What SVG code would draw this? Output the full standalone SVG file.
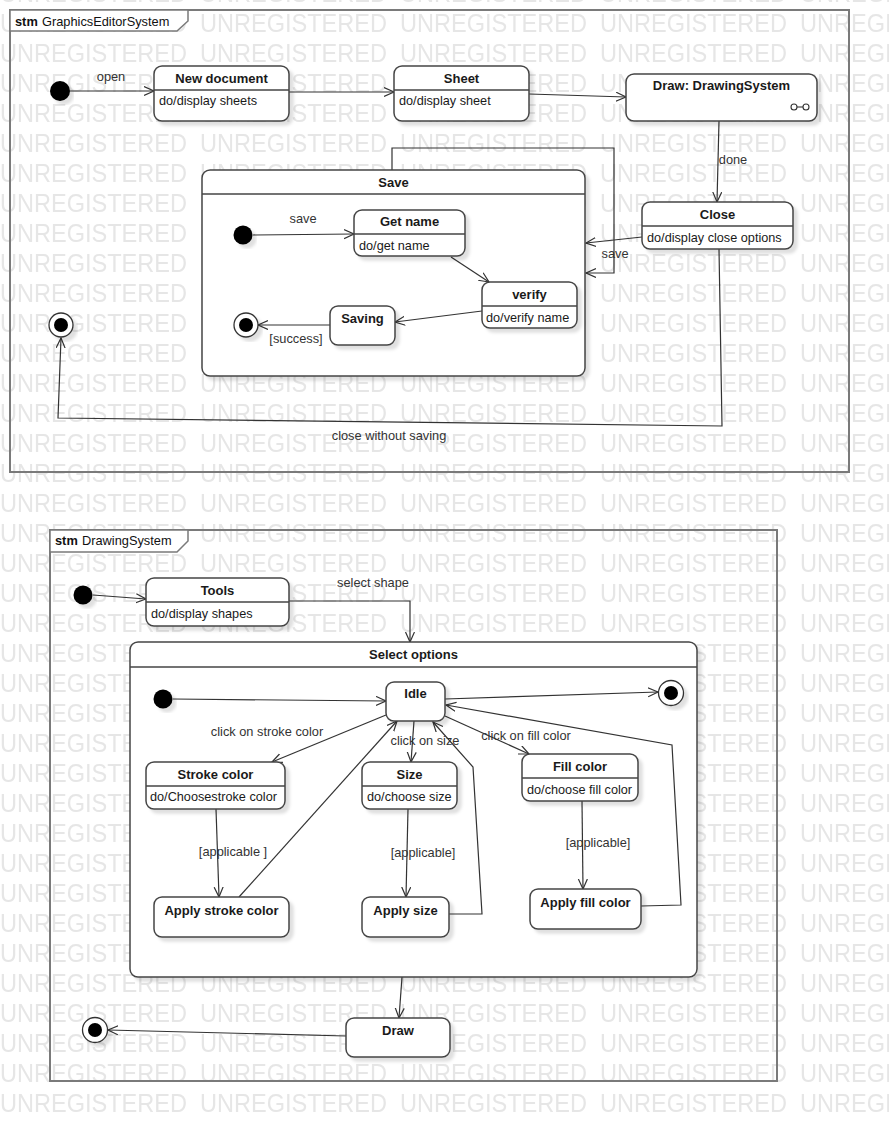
<svg xmlns="http://www.w3.org/2000/svg" width="889" height="1122" viewBox="0 0 889 1122">
  <style>
    .wm { font-family: "Liberation Sans", Arial, sans-serif; font-size: 25px; fill: #e6e6e6; }
    .frame { fill: none; stroke: #7a7a7a; stroke-width: 2; }
    .tab { fill: #fff; stroke: #7a7a7a; stroke-width: 1.5; }
    .tabk { font-family: "Liberation Sans", Arial, sans-serif; font-size: 12.8px; font-weight: bold; fill: #111; }
    .tabn { font-family: "Liberation Sans", Arial, sans-serif; font-size: 12.8px; fill: #111; }
    .node { fill: #fff; stroke: #454545; stroke-width: 1.5; filter: url(#shadow); }
    .div { stroke: #454545; stroke-width: 1.5; }
    .title { font-family: "Liberation Sans", Arial, sans-serif; font-size: 13px; font-weight: bold; fill: #1a1a1a; text-anchor: middle; }
    .body { font-family: "Liberation Sans", Arial, sans-serif; font-size: 12.7px; fill: #1a1a1a; }
    .lbl { font-family: "Liberation Sans", Arial, sans-serif; font-size: 12.8px; fill: #333; text-anchor: middle; }
    .init { fill: #000; filter: url(#shadow); }
    .finalo { fill: #fff; stroke: #333; stroke-width: 1.3; filter: url(#shadow); }
    .finali { fill: #000; }
    .edge { fill: none; stroke: #333; stroke-width: 1.2; marker-end: url(#arr); }
  </style>
  <defs>
    <pattern id="wmTile" patternUnits="userSpaceOnUse" x="0" y="2" width="200" height="30">
      <text class="wm" x="0" y="30" textLength="187" lengthAdjust="spacingAndGlyphs">UNREGISTERED</text>
    </pattern>
    <filter id="shadow" x="-20%" y="-20%" width="140%" height="140%">
      <feDropShadow dx="4" dy="4" stdDeviation="1.6" flood-color="#000" flood-opacity="0.12"/>
    </filter>
    <marker id="arr" markerUnits="userSpaceOnUse" markerWidth="12" markerHeight="12" refX="10" refY="5" orient="auto">
      <path d="M0,0.5 L10,5 L0,9.5" fill="none" stroke="#333" stroke-width="1.2"/>
    </marker>
  </defs>

  <!-- background watermark -->
  <rect x="0" y="0" width="889" height="1122" fill="#fff"/>
  <rect x="0" y="0" width="889" height="1122" fill="url(#wmTile)"/>

  <!-- ===== stm GraphicsEditorSystem ===== -->
  <g id="frame-graphics-editor">
    <rect class="frame" x="10" y="10" width="839" height="462"/>
    <path class="tab" d="M10,10 H188 V21 L177,31 H10 Z"/>
    <text class="tabk" x="15" y="26">stm</text>
    <text class="tabn" x="42" y="26">GraphicsEditorSystem</text>
  </g>

  <g id="connectors-top">
    <path class="edge" d="M70,91 L154,91"/>
    <text class="lbl" x="111" y="81">open</text>
    <path class="edge" d="M289,92 L394,92"/>
    <path class="edge" d="M529,94 L626,97"/>
    <path class="edge" d="M719,121 L717,202"/>
    <text class="lbl" x="733" y="164">done</text>
    <path class="edge" d="M642,237 L586,243"/>
    <text class="lbl" x="615" y="258">save</text>
    <path class="edge" d="M392,170 V148 H614 V273 H586"/>
    <path class="edge" d="M719,249 L722,426 L58,418 L61,338"/>
    <text class="lbl" x="389" y="440">close without saving</text>
  </g>

  <g id="init-top">
    <circle class="init" cx="60" cy="91" r="10"/>
  </g>

  <g id="new-document">
    <rect class="node" x="154" y="66" width="135" height="55" rx="8"/>
    <line class="div" x1="154" y1="90" x2="289" y2="90"/>
    <text class="title" x="221.5" y="83">New document</text>
    <text class="body" x="159" y="105">do/display sheets</text>
  </g>

  <g id="sheet">
    <rect class="node" x="394" y="66" width="135" height="55" rx="8"/>
    <line class="div" x1="394" y1="90" x2="529" y2="90"/>
    <text class="title" x="461.5" y="83">Sheet</text>
    <text class="body" x="399" y="105">do/display sheet</text>
  </g>

  <g id="draw-drawing-system">
    <rect class="node" x="626" y="74" width="191" height="47" rx="8"/>
    <text class="title" x="721.5" y="90">Draw: DrawingSystem</text>
    <g fill="none" stroke="#333" stroke-width="1.1">
      <circle cx="794" cy="107" r="3"/>
      <circle cx="806" cy="107" r="3"/>
      <line x1="797" y1="107" x2="803" y2="107"/>
    </g>
  </g>

  <g id="close">
    <rect class="node" x="642" y="202" width="151" height="47" rx="8"/>
    <line class="div" x1="642" y1="226" x2="793" y2="226"/>
    <text class="title" x="717.5" y="219">Close</text>
    <text class="body" x="647" y="242">do/display close options</text>
  </g>

  <g id="final-top">
    <circle class="finalo" cx="61" cy="325" r="12"/>
    <circle class="finali" cx="61" cy="325" r="7"/>
  </g>

  <!-- composite state Save -->
  <g id="save">
    <rect class="node" x="202" y="170" width="383" height="206" rx="8"/>
    <line class="div" x1="202" y1="194" x2="585" y2="194"/>
    <text class="title" x="393.5" y="187">Save</text>
  </g>

  <g id="connectors-save">
    <path class="edge" d="M253,235 L354,234"/>
    <text class="lbl" x="303" y="223">save</text>
    <path class="edge" d="M451,257 L489,282"/>
    <path class="edge" d="M482,311 L395,322"/>
    <path class="edge" d="M330,325 L258,325"/>
    <text class="lbl" x="296" y="343">[success]</text>
  </g>

  <g id="save-init">
    <circle class="init" cx="243" cy="235" r="9.5"/>
  </g>

  <g id="get-name">
    <rect class="node" x="354" y="210" width="111" height="46" rx="8"/>
    <line class="div" x1="354" y1="234" x2="465" y2="234"/>
    <text class="title" x="409.5" y="226">Get name</text>
    <text class="body" x="359" y="250">do/get name</text>
  </g>

  <g id="verify">
    <rect class="node" x="482" y="282" width="95" height="46" rx="8"/>
    <line class="div" x1="482" y1="306" x2="577" y2="306"/>
    <text class="title" x="529.5" y="299">verify</text>
    <text class="body" x="486" y="322">do/verify name</text>
  </g>

  <g id="saving">
    <rect class="node" x="330" y="306" width="65" height="39" rx="8"/>
    <text class="title" x="362.5" y="323">Saving</text>
  </g>

  <g id="save-final">
    <circle class="finalo" cx="246" cy="325" r="12"/>
    <circle class="finali" cx="246" cy="325" r="7"/>
  </g>

  <!-- ===== stm DrawingSystem ===== -->
  <g id="frame-drawing-system">
    <rect class="frame" x="50" y="530" width="727" height="551"/>
    <path class="tab" d="M50,530 H188 V541 L177,552 H50 Z"/>
    <text class="tabk" x="55" y="545">stm</text>
    <text class="tabn" x="82" y="545">DrawingSystem</text>
  </g>

  <g id="connectors-drawing">
    <path class="edge" d="M93,595 L146,599"/>
    <path class="edge" d="M289,601 H410 V642"/>
    <text class="lbl" x="373" y="587">select shape</text>
    <path class="edge" d="M402,977 L399,1018"/>
    <path class="edge" d="M346,1036 L108,1030"/>
  </g>

  <g id="init-drawing">
    <circle class="init" cx="83" cy="595" r="9.5"/>
  </g>

  <g id="tools">
    <rect class="node" x="146" y="578" width="143" height="48" rx="8"/>
    <line class="div" x1="146" y1="602" x2="289" y2="602"/>
    <text class="title" x="217.5" y="595">Tools</text>
    <text class="body" x="151" y="618">do/display shapes</text>
  </g>

  <!-- composite state Select options -->
  <g id="select-options">
    <rect class="node" x="130" y="642" width="567" height="335" rx="8"/>
    <line class="div" x1="130" y1="667" x2="697" y2="667"/>
    <text class="title" x="413.5" y="659">Select options</text>
  </g>

  <g id="connectors-select">
    <path class="edge" d="M173,699 L386,701"/>
    <path class="edge" d="M445,699 L658,692"/>
    <path class="edge" d="M386,715 L272,762"/>
    <text class="lbl" x="267" y="736">click on stroke color</text>
    <path class="edge" d="M414,721 L411,762"/>
    <text class="lbl" x="425" y="745">click on size</text>
    <path class="edge" d="M445,716 L529,754"/>
    <text class="lbl" x="526" y="740">click on fill color</text>
    <path class="edge" d="M216,809 L219,897"/>
    <text class="lbl" x="233" y="856">[applicable ]</text>
    <path class="edge" d="M408,809 L406,897"/>
    <text class="lbl" x="423" y="857">[applicable]</text>
    <path class="edge" d="M582,801 L583,889"/>
    <text class="lbl" x="598" y="847">[applicable]</text>
    <path class="edge" d="M239,897 L397,721"/>
    <path class="edge" d="M449,914 H482 L473,767 L433,722"/>
    <path class="edge" d="M641,906 L681,905 L672,745 L446,705"/>
  </g>

  <g id="select-init">
    <circle class="init" cx="163" cy="699" r="9.5"/>
  </g>

  <g id="idle">
    <rect class="node" x="386" y="682" width="59" height="39" rx="8"/>
    <text class="title" x="415.5" y="698">Idle</text>
  </g>

  <g id="select-final">
    <circle class="finalo" cx="671" cy="693" r="12.5"/>
    <circle class="finali" cx="671" cy="693" r="7"/>
  </g>

  <g id="stroke-color">
    <rect class="node" x="146" y="762" width="139" height="47" rx="8"/>
    <line class="div" x1="146" y1="786" x2="285" y2="786"/>
    <text class="title" x="215.5" y="779">Stroke color</text>
    <text class="body" x="150" y="801">do/Choosestroke color</text>
  </g>

  <g id="size">
    <rect class="node" x="362" y="762" width="95" height="47" rx="8"/>
    <line class="div" x1="362" y1="786" x2="457" y2="786"/>
    <text class="title" x="409.5" y="779">Size</text>
    <text class="body" x="367" y="801">do/choose size</text>
  </g>

  <g id="fill-color">
    <rect class="node" x="522" y="754" width="116" height="47" rx="8"/>
    <line class="div" x1="522" y1="778" x2="638" y2="778"/>
    <text class="title" x="580" y="771">Fill color</text>
    <text class="body" x="527" y="794">do/choose fill color</text>
  </g>

  <g id="apply-stroke-color">
    <rect class="node" x="154" y="897" width="135" height="40" rx="8"/>
    <text class="title" x="221.5" y="915">Apply stroke color</text>
  </g>

  <g id="apply-size">
    <rect class="node" x="362" y="897" width="87" height="40" rx="8"/>
    <text class="title" x="405.5" y="915">Apply size</text>
  </g>

  <g id="apply-fill-color">
    <rect class="node" x="530" y="889" width="111" height="40" rx="8"/>
    <text class="title" x="585.5" y="907">Apply fill color</text>
  </g>

  <g id="draw">
    <rect class="node" x="346" y="1018" width="104" height="39" rx="8"/>
    <text class="title" x="398" y="1035">Draw</text>
  </g>

  <g id="final-drawing">
    <circle class="finalo" cx="95" cy="1030" r="12.5"/>
    <circle class="finali" cx="95" cy="1030" r="7"/>
  </g>
</svg>
